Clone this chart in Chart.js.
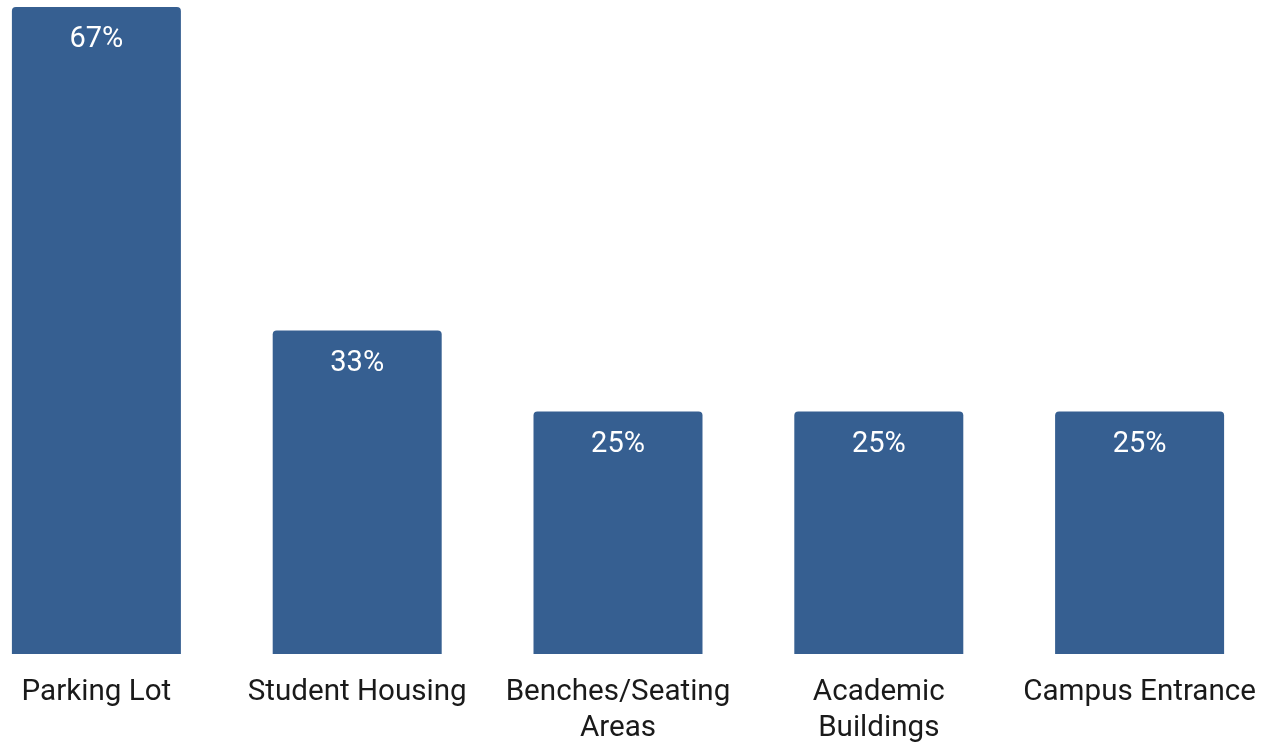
<!DOCTYPE html>
<html>
<head>
<meta charset="utf-8">
<script src="https://cdn.jsdelivr.net/npm/chart.js@4/dist/chart.umd.min.js"></script>
<style>
  html, body { margin: 0; padding: 0; background: #ffffff; overflow: hidden; width: 1261px; height: 743px; }
  #wrap { position: absolute; left: -34px; top: 0; width: 1304px; height: 768px; }
</style>
</head>
<body>
<div id="wrap"><canvas id="c"></canvas></div>
<script>
const categories = ["Parking Lot", "Student Housing", ["Benches/Seating", "Areas"], ["Academic", "Buildings"], "Campus Entrance"];
const values = [66.67, 33.33, 25, 25, 25];
const valueLabels = ["67%", "33%", "25%", "25%", "25%"];

const barLabelPlugin = {
  id: 'barLabels',
  afterDatasetsDraw(chart) {
    const ctx = chart.ctx;
    const meta = chart.getDatasetMeta(0);
    ctx.save();
    ctx.fillStyle = '#ffffff';
    ctx.font = '29px Roboto';
    ctx.textAlign = 'center';
    ctx.textBaseline = 'middle';
    meta.data.forEach((bar, i) => {
      ctx.fillText(valueLabels[i], bar.x, bar.y + 33);
    });
    ctx.restore();
  }
};

new Chart(document.getElementById('c'), {
  type: 'bar',
  data: {
    labels: categories,
    datasets: [{
      data: values,
      backgroundColor: '#365f91',
      borderRadius: 4,
      categoryPercentage: 1,
      barPercentage: 0.648
    }]
  },
  options: {
    responsive: true,
    maintainAspectRatio: false,
    animation: false,
    layout: { padding: { top: 7, left: 0, right: 0, bottom: 0 } },
    plugins: { legend: { display: false }, tooltip: { enabled: false } },
    scales: {
      x: {
        grid: { display: false, drawTicks: false },
        border: { display: false },
        afterFit(scale) { scale.paddingLeft = 0; scale.paddingRight = 0; },
        ticks: {
          color: '#1a1a1a',
          font: { family: 'Roboto', size: 29.6, lineHeight: 36 / 29.6 },
          padding: 21,
          maxRotation: 0,
          autoSkip: false
        }
      },
      y: {
        display: false,
        min: 0,
        max: 66.67
      }
    }
  },
  plugins: [barLabelPlugin]
});
</script>
</body>
</html>
